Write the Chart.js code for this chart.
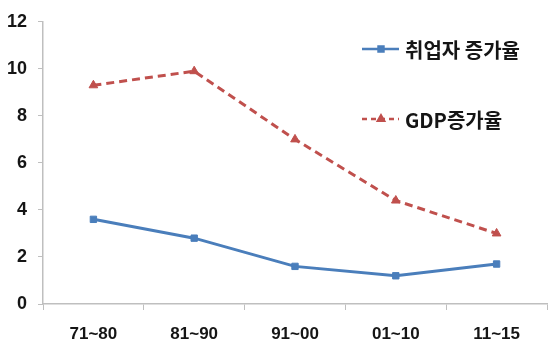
<!DOCTYPE html>
<html>
<head>
<meta charset="utf-8">
<script src="https://cdn.jsdelivr.net/npm/chart.js@4.4.0/dist/chart.umd.min.js"></script>
<style>
  html, body { margin: 0; padding: 0; background: #fff; overflow: hidden; }
  #wrap { width: 553px; height: 345px; }
</style>
</head>
<body>
<div id="wrap"><canvas id="growthChart"></canvas></div>
<script>
var periods = ['71~80', '81~90', '91~00', '01~10', '11~15'];
var employmentGrowth = [3.6, 2.8, 1.6, 1.2, 1.7];
var gdpGrowth = [9.3, 9.9, 7.0, 4.4, 3.0];
var seriesNames = ['취업자 증가율', 'GDP증가율'];

var blue = '#4a7ebb';
var red = '#c0504d';

// legend drawn inside the plot, at the upper right
var insideLegend = {
    id: 'insideLegend',
    afterDraw: function(chart) {
        var ctx = chart.ctx;
        var rows = [
            { y: 49, color: blue, dash: [], style: 'rect', text: seriesNames[0] },
            { y: 119, color: red, dash: [5, 4], style: 'triangle', text: seriesNames[1] }
        ];
        ctx.save();
        rows.forEach(function(r) {
            ctx.strokeStyle = r.color;
            ctx.lineWidth = 2.5;
            ctx.setLineDash(r.dash);
            ctx.beginPath();
            ctx.moveTo(362, r.y);
            ctx.lineTo(399, r.y);
            ctx.stroke();
            ctx.setLineDash([]);
            Chart.helpers.drawPoint(ctx, { pointStyle: r.style, radius: 3.5, borderWidth: 1 }, 381, r.y);
            ctx.fillStyle = r.color;
            ctx.fill();
            ctx.fillStyle = '#151515';
            ctx.font = 'bold 20px "Liberation Sans Narrow", "Noto Sans CJK KR"';
            ctx.textBaseline = 'middle';
            ctx.textAlign = 'left';
            ctx.fillText(r.text, 405, r.y + 1);
        });
        ctx.restore();
    }
};

var ctx = document.getElementById('growthChart').getContext('2d');
var chart = new Chart(ctx, {
    type: 'line',
    data: {
        labels: periods,
        datasets: [
            {
                label: seriesNames[0],
                data: employmentGrowth,
                borderColor: blue,
                backgroundColor: blue,
                borderWidth: 3,
                pointStyle: 'rect',
                pointRadius: 4.5,
                pointBorderWidth: 1,
                tension: 0
            },
            {
                label: seriesNames[1],
                data: gdpGrowth,
                borderColor: red,
                backgroundColor: red,
                borderWidth: 3,
                borderDash: [8, 5],
                pointStyle: 'triangle',
                pointRadius: 5,
                pointBorderWidth: 1,
                tension: 0
            }
        ]
    },
    options: {
        responsive: true,
        maintainAspectRatio: false,
        animation: false,
        layout: { padding: { top: 17, left: 0, right: 0, bottom: 0 } },
        scales: {
            x: {
                offset: true,
                grid: { drawOnChartArea: false, drawTicks: true, tickLength: 6, color: '#bfbfbf', offset: true },
                border: { color: '#bfbfbf', width: 1.5 },
                ticks: {
                    color: '#151515',
                    padding: 14,
                    font: { family: '"Liberation Sans"', size: 17, weight: 'bold' }
                },
                afterFit: function(scale) { scale.height = 41; }
            },
            y: {
                min: 0,
                max: 12,
                ticks: {
                    stepSize: 2,
                    color: '#151515',
                    padding: 11,
                    font: { family: '"Liberation Sans"', size: 18, weight: 'bold' }
                },
                grid: { drawOnChartArea: false, drawTicks: true, tickLength: 5, color: '#bfbfbf' },
                border: { color: '#bfbfbf', width: 1.5 },
                afterFit: function(scale) { scale.width = 43; }
            }
        },
        plugins: {
            legend: { display: false },
            tooltip: { enabled: false }
        }
    },
    plugins: [insideLegend]
});
</script>
</body>
</html>
